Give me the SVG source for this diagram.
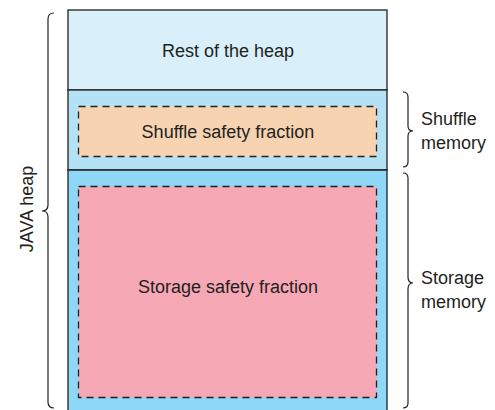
<svg xmlns="http://www.w3.org/2000/svg" width="495" height="410" viewBox="0 0 495 410">
<style>
text{font-family:"Liberation Sans",Arial,sans-serif;font-size:18px;fill:#231f20}
.box{stroke:#231f20;stroke-width:1.3}
.dash{stroke:#231f20;stroke-width:1.3;stroke-dasharray:7,5}
.brace{fill:none;stroke:#231f20;stroke-width:1.2}
</style>
<rect width="495" height="410" fill="#fff"/>
<g id="rest-of-heap">
<rect class="box" x="68" y="10" width="319" height="80" fill="#d9f0fa"/>
<text x="228" y="57" text-anchor="middle">Rest of the heap</text>
</g>
<g id="shuffle-region">
<rect class="box" x="68" y="90" width="319" height="80" fill="#b3e1f6"/>
</g>
<g id="storage-region">
<path class="box" d="M68,411 V170 H387 V411" fill="#8ed7f6"/>
</g>
<g id="shuffle-safety-fraction">
<rect class="dash" x="78.5" y="106.5" width="298" height="50" fill="#f7d3b2"/>
<text x="228" y="138" text-anchor="middle">Shuffle safety fraction</text>
</g>
<g id="storage-safety-fraction">
<rect class="dash" x="78.5" y="186.5" width="298" height="211" fill="#f6a8b4"/>
<text x="228" y="293" text-anchor="middle">Storage safety fraction</text>
</g>
<g id="connectors">
<path class="brace" d="M54,13 Q48,13 48,19 L48,205 Q48,211 42,211 Q48,211 48,217 L48,402 Q48,408 54,408"/>
<path class="brace" d="M403,92 Q408,92 408,97 L408,126 Q408,131 413,131 Q408,131 408,136 L408,162 Q408,167 403,167"/>
<path class="brace" d="M403,173 Q408,173 408,178 L408,277 Q408,283 413,283 Q408,283 408,289 L408,403 Q408,408 403,408"/>
</g>
<g id="java-heap-label">
<text transform="translate(33,209) rotate(-90)" text-anchor="middle">JAVA heap</text>
</g>
<g id="shuffle-memory-label">
<text x="421" y="125">Shuffle</text>
<text x="421" y="149">memory</text>
</g>
<g id="storage-memory-label">
<text x="421" y="284">Storage</text>
<text x="421" y="308">memory</text>
</g>
</svg>
